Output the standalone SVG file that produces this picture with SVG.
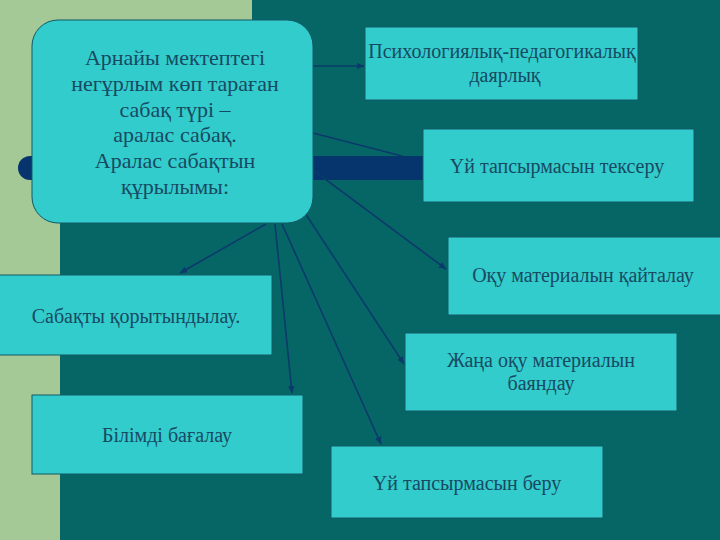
<svg xmlns="http://www.w3.org/2000/svg" width="720" height="540" viewBox="0 0 720 540">
<defs>
<marker id="ah" viewBox="0 0 10 10" refX="9" refY="5" markerWidth="5" markerHeight="5" orient="auto" markerUnits="strokeWidth">
<path d="M0,1 L10,5 L0,9 z" fill="#0b3a6b"/>
</marker>
<style>
.box{fill:#33cccc;stroke:#105a66;stroke-width:1}
.t{font-family:"Liberation Serif","Times New Roman",serif;font-size:20px;fill:#174a62;text-anchor:middle}
.m{font-size:22px}
.c{stroke:#0b3a6b;stroke-width:1.6;fill:none}
.ca{stroke:#0b3a6b;stroke-width:1.6;fill:none;marker-end:url(#ah)}
</style>
</defs>
<rect x="0" y="0" width="720" height="540" fill="#066666"/>
<rect x="0" y="0" width="252" height="170" fill="#a4c896"/>
<rect x="0" y="0" width="60" height="540" fill="#a4c896"/>
<rect x="30" y="156" width="560" height="24" fill="#06346c"/>
<circle cx="30" cy="168" r="12" fill="#06346c"/>
<g id="connectors">
<line class="c" x1="313" y1="133" x2="402" y2="156"/>
<line class="ca" x1="313" y1="66" x2="364" y2="66"/>
<line class="ca" x1="313" y1="170" x2="446" y2="269"/>
<line class="ca" x1="266" y1="224" x2="180" y2="273"/>
<line class="ca" x1="275" y1="224" x2="292" y2="393"/>
<line class="ca" x1="282" y1="224" x2="381" y2="444"/>
<line class="ca" x1="305" y1="213" x2="404" y2="364"/>
</g>
<g id="main">
<rect class="box" x="32" y="20" width="281" height="203" rx="26"/>
<text class="t m" x="175" y="65">Арнайы мектептегі</text>
<text class="t m" x="175" y="91">негұрлым көп тараған</text>
<text class="t m" x="175" y="117">сабақ түрі –</text>
<text class="t m" x="175" y="142">аралас сабақ.</text>
<text class="t m" x="175" y="168">Аралас сабақтын</text>
<text class="t m" x="175" y="194">құрылымы:</text>
</g>
<g id="n1">
<rect class="box" x="365" y="27" width="273" height="73"/>
<text class="t" x="502" y="58">Психологиялық-педагогикалық</text>
<text class="t" x="505" y="82">даярлық</text>
</g>
<g id="n2">
<rect class="box" x="423" y="129" width="271" height="73"/>
<text class="t" x="557" y="173">Үй тапсырмасын тексеру</text>
</g>
<g id="n3">
<rect class="box" x="448" y="237" width="280" height="78"/>
<text class="t" x="583" y="282">Оқу материалын қайталау</text>
</g>
<g id="n4">
<rect class="box" x="-2" y="275" width="274" height="80"/>
<text class="t" x="136" y="323">Сабақты қорытындылау.</text>
</g>
<g id="n5">
<rect class="box" x="405" y="333" width="272" height="78"/>
<text class="t" x="541" y="367">Жаңа оқу материалын</text>
<text class="t" x="541" y="390">баяндау</text>
</g>
<g id="n6">
<rect class="box" x="32" y="395" width="271" height="79"/>
<text class="t" x="167" y="442">Білімді бағалау</text>
</g>
<g id="n7">
<rect class="box" x="331" y="446" width="272" height="72"/>
<text class="t" x="467" y="490">Үй тапсырмасын беру</text>
</g>
</svg>
